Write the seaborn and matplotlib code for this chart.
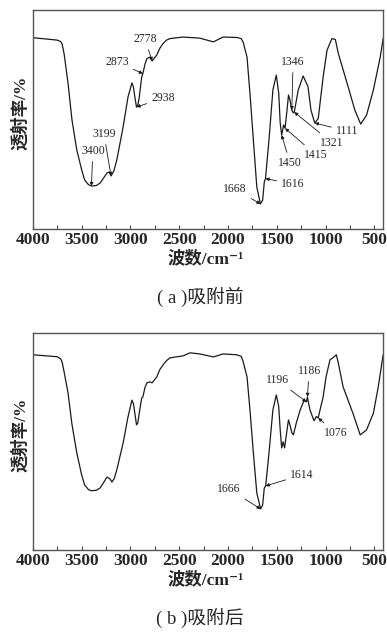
import matplotlib
matplotlib.use("Agg")
import matplotlib.pyplot as plt
import seaborn as sns
import pandas as pd

# IR spectra (wavenumber / relative transmittance)
wn_a = [4000, 3750, 3715, 3700, 3680, 3640, 3600, 3550, 3500, 3470, 3430, 3400,
        3350, 3310, 3240, 3215, 3199, 3170, 3140, 3075, 3025, 2985, 2970, 2955,
        2938, 2925, 2910, 2885, 2873, 2850, 2830, 2800, 2778, 2730, 2700, 2665,
        2630, 2595, 2460, 2290, 2150, 2050, 1910, 1865, 1845, 1805, 1775, 1740,
        1705, 1668, 1645, 1628, 1616, 1580, 1540, 1505, 1480, 1465, 1450, 1430,
        1415, 1395, 1380, 1365, 1346, 1330, 1321, 1280, 1230, 1180, 1150, 1111,
        1075, 1025, 985, 935, 900, 870, 780, 700, 640, 580, 510, 440, 410]
tr_a = [87.4, 86.3, 85.6, 84.5, 80.0, 66.7, 50.0, 36.0, 27.0, 22.4, 20.2, 19.6,
        19.8, 21.0, 25.6, 26.0, 24.2, 26.5, 31.5, 46.6, 60.3, 66.7, 65.0, 60.3,
        55.7, 56.5, 60.0, 69.4, 71.0, 75.5, 77.9, 78.5, 76.8, 79.5, 82.5, 84.8,
        86.3, 87.0, 87.7, 87.2, 85.5, 87.7, 87.5, 87.0, 85.4, 78.5, 62.0, 40.6,
        19.2, 11.4, 13.2, 21.5, 23.0, 40.6, 63.5, 70.3, 62.0, 48.4, 42.9, 47.5,
        46.0, 54.3, 61.2, 58.9, 54.3, 53.0, 53.4, 63.5, 69.9, 65.0, 54.3, 48.4,
        50.5, 69.4, 81.7, 87.0, 86.6, 80.3, 66.7, 54.3, 47.9, 52.0, 63.5, 78.5, 87.0]

wn_b = [4000, 3750, 3715, 3700, 3680, 3640, 3600, 3550, 3500, 3470, 3430, 3400,
        3350, 3310, 3240, 3210, 3190, 3165, 3140, 3075, 3025, 2985, 2970, 2955,
        2938, 2925, 2910, 2885, 2873, 2850, 2830, 2800, 2778, 2730, 2700, 2665,
        2630, 2595, 2460, 2390, 2290, 2150, 2050, 1910, 1865, 1845, 1805, 1775,
        1740, 1705, 1666, 1645, 1628, 1614, 1580, 1540, 1505, 1480, 1465, 1450,
        1435, 1420, 1395, 1380, 1365, 1345, 1330, 1300, 1260, 1220, 1196, 1186,
        1160, 1118, 1095, 1076, 1025, 995, 955, 925, 890, 870, 820, 720, 645,
        580, 510, 460, 410]
tr_b = [89.9, 89.0, 88.0, 86.5, 82.0, 72.4, 58.0, 44.7, 34.5, 30.0, 27.8, 27.3,
        27.5, 28.6, 33.6, 32.7, 31.3, 33.0, 36.9, 49.3, 61.3, 69.0, 67.5, 63.0,
        57.6, 58.5, 63.0, 70.0, 70.5, 75.0, 77.0, 77.4, 77.0, 79.7, 83.0, 85.3,
        87.2, 88.5, 89.4, 90.8, 90.3, 88.9, 90.3, 89.9, 89.2, 86.8, 79.7, 64.5,
        44.7, 26.3, 18.9, 20.7, 28.6, 29.5, 44.7, 64.5, 71.4, 66.0, 55.3, 47.0,
        49.8, 47.0, 55.3, 59.9, 57.6, 53.9, 53.0, 58.5, 64.5, 69.0, 68.2, 70.5,
        64.5, 59.5, 61.5, 60.8, 70.5, 79.7, 87.6, 88.5, 89.9, 86.2, 75.1, 63.0,
        53.0, 55.3, 63.0, 75.1, 89.9]

# peak labels: (label, tip wavenumber, tip value, text wavenumber, text value)
peaks_a = [("2778", 2778, 76.8, 2851, 86.8),
           ("2873", 2873, 71.0, 3138, 76.3),
           ("2938", 2938, 55.7, 2667, 59.8),
           ("3199", 3199, 24.2, 3272, 43.4),
           ("3400", 3400, 19.6, 3385, 35.6),
           ("1346", 1346, 54.3, 1333, 76.3),
           ("1321", 1321, 53.4, 933, 39.3),
           ("1111", 1111, 48.4, 779, 44.7),
           ("1415", 1415, 46.0, 1097, 33.8),
           ("1450", 1450, 42.9, 1364, 30.1),
           ("1616", 1616, 23.0, 1333, 20.5),
           ("1668", 1668, 11.4, 1928, 18.3)]
peaks_b = [("1196", 1196, 68.2, 1497, 78.3),
           ("1186", 1186, 70.5, 1169, 82.5),
           ("1076", 1076, 60.8, 892, 53.9),
           ("1614", 1614, 29.5, 1241, 34.6),
           ("1666", 1666, 18.9, 1990, 28.1)]

captions = ["( a )吸附前", "( b )吸附后"]
xticks = [4000, 3500, 3000, 2500, 2000, 1500, 1000, 500]

sns.set_style("white")
plt.rcParams['font.family'] = ['Liberation Serif', 'Noto Sans CJK SC', 'DejaVu Sans']
mixed = ['Liberation Serif', 'Noto Sans CJK SC', 'DejaVu Sans']

fig = plt.figure(figsize=(3.87, 6.34), dpi=100)

panels = [(wn_a, tr_a, peaks_a, [0.085, 0.639, 0.905, 0.345]),
          (wn_b, tr_b, peaks_b, [0.085, 0.1325, 0.905, 0.3425])]

for i, (wn, tr, peaks, rect) in enumerate(panels):
    ax = fig.add_axes(rect)
    df = pd.DataFrame({"wavenumber": wn, "T": tr})
    sns.lineplot(data=df, x="wavenumber", y="T", ax=ax, sort=False,
                 color="#1a1a1a", linewidth=0.9)
    ax.set_xlim(4000, 410)
    ax.set_ylim(0, 100)
    ax.set_yticks([])
    ax.set_xticks(xticks)
    ax.set_xticks(range(3750, 400, -500), minor=True)
    ax.tick_params(axis='x', which='both', direction='in', length=3,
                   width=0.8, color='#444444', bottom=True, pad=2)
    for lab in ax.get_xticklabels():
        lab.set_fontweight('bold')
        lab.set_fontsize(12.5)
        lab.set_family('Liberation Serif')
    for sp in ax.spines.values():
        sp.set_color('#555555')
        sp.set_linewidth(1.0)
    ax.set_xlabel("")
    ax.set_ylabel("透射率/%", family=mixed, fontsize=12.5, fontweight='bold')
    ax.yaxis.set_label_coords(-0.012, 0.53)

    for lab, tx, ty, lx, ly in peaks:
        ax.annotate(lab, xy=(tx, ty), xytext=(lx, ly), fontsize=8.5,
                    ha='center', va='center', family='Liberation Serif',
                    arrowprops=dict(arrowstyle='-|>', color='#1a1a1a', lw=0.6,
                                    mutation_scale=5, shrinkA=1, shrinkB=0))

    fig.text(0.532, rect[1] - 0.047, "波数/cm⁻¹", ha='center', va='center',
             fontsize=12.5, fontweight='bold', family=mixed)
    fig.text(0.517, rect[1] - 0.107, captions[i], ha='center', va='center',
             fontsize=13.5, family=mixed)

fig.savefig("out.png", dpi=100)
